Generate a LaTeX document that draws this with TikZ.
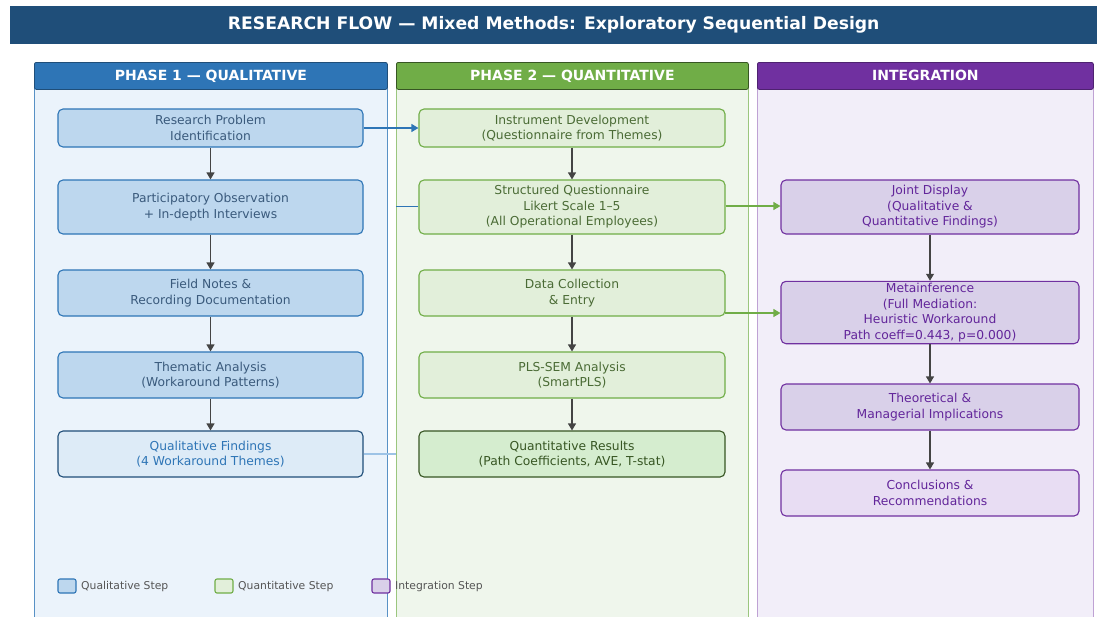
\documentclass[tikz,border=0pt]{standalone}
\usepackage{fontspec}
\setmainfont{DejaVu Sans}
\usetikzlibrary{arrows.meta}
\definecolor{titlebg}{HTML}{1F4E79}
\definecolor{qhead}{HTML}{2E75B6}
\definecolor{nhead}{HTML}{70AD47}
\definecolor{ihead}{HTML}{7030A0}
\definecolor{qpanel}{HTML}{EBF3FB}
\definecolor{npanel}{HTML}{EFF6EC}
\definecolor{ipanel}{HTML}{F2EEF9}
\definecolor{qfill}{HTML}{BDD7EE}
\definecolor{nfill}{HTML}{E2EFDA}
\definecolor{ifill}{HTML}{D9D0E9}
\definecolor{qtext}{HTML}{3A5A7C}
\definecolor{ntext}{HTML}{4A6B35}
\definecolor{itext}{HTML}{62259A}
\definecolor{qlast}{HTML}{DDEBF7}
\definecolor{nlast}{HTML}{D5EDCF}
\definecolor{ilast}{HTML}{E8DDF3}
\definecolor{qdark}{HTML}{1F4E79}
\definecolor{ndark}{HTML}{375623}
\definecolor{flowc}{HTML}{444444}
\definecolor{legc}{HTML}{555555}
\definecolor{qlight}{HTML}{9DC3E6}
\tikzset{
  x=1pt,y=-1pt,
  stepbase/.style={rectangle,rounded corners=5pt,line width=1.1pt,align=center,
    font=\fontsize{12.3}{15.5}\selectfont,inner sep=2pt},
  qbox/.style={stepbase,fill=qfill,draw=qhead,text=qtext,minimum width=305pt},
  nbox/.style={stepbase,fill=nfill,draw=nhead,text=ntext,minimum width=306pt},
  ibox/.style={stepbase,fill=ifill,draw=ihead,text=itext,minimum width=298pt},
  headbox/.style={rectangle,rounded corners=2pt,line width=0.8pt,text=white,
    font=\bfseries\fontsize{14}{16}\selectfont,anchor=north west,inner sep=0pt},
  flow/.style={draw=flowc,line width=1.1pt,-{Triangle[length=7pt,width=8pt]}},
  cross/.style={line width=1.2pt,-{Triangle[length=7pt,width=8pt]}},
  legbox/.style={rectangle,rounded corners=2pt,line width=1.1pt,minimum width=18pt,minimum height=14pt,inner sep=0pt},
  legtext/.style={text=legc,font=\fontsize{10.8}{12}\selectfont,anchor=west,inner sep=0pt},
}
\begin{document}
\begin{tikzpicture}
\useasboundingbox (0,0) rectangle (1097,616);
\fill[white] (0,0) rectangle (1097,616);
% title
\node[fill=titlebg,anchor=north west,minimum width=1087pt,minimum height=38pt,inner sep=0pt,
  text=white,font=\bfseries\fontsize{17.2}{19}\selectfont] (title) at (10,6)
  {RESEARCH FLOW — Mixed Methods: Exploratory Sequential Design};
% panels
\filldraw[fill=qpanel,draw=qhead!80,line width=0.8pt] (34,70) rectangle (387,620);
\filldraw[fill=npanel,draw=nhead!70,line width=0.8pt] (396,70) rectangle (748,620);
\filldraw[fill=ipanel,draw=ihead!45,line width=0.8pt] (757,70) rectangle (1093,620);
\node[headbox,fill=qhead,draw=qdark,minimum width=353pt,minimum height=27pt] (h1) at (34,62) {PHASE 1 — QUALITATIVE};
\node[headbox,fill=nhead,draw=ndark,minimum width=352pt,minimum height=27pt] (h2) at (396,62) {PHASE 2 — QUANTITATIVE};
\node[headbox,fill=ihead,draw=ihead!70!black,minimum width=336pt,minimum height=27pt] (h3) at (757,62) {INTEGRATION};
% phase 1
\node[qbox,minimum height=38pt] (q1) at (210.5,128) {Research Problem\\Identification};
\node[qbox,minimum height=54pt] (q2) at (210.5,207) {Participatory Observation\\+ In-depth Interviews};
\node[qbox,minimum height=46pt] (q3) at (210.5,293) {Field Notes \&\\Recording Documentation};
\node[qbox,minimum height=46pt] (q4) at (210.5,375) {Thematic Analysis\\(Workaround Patterns)};
\node[qbox,minimum height=46pt,fill=qlast,draw=qdark,text=qhead] (q5) at (210.5,454) {Qualitative Findings\\(4 Workaround Themes)};
% phase 2
\node[nbox,minimum height=38pt] (n1) at (572,128) {Instrument Development\\(Questionnaire from Themes)};
\node[nbox,minimum height=54pt] (n2) at (572,207) {Structured Questionnaire\\Likert Scale 1–5\\(All Operational Employees)};
\node[nbox,minimum height=46pt] (n3) at (572,293) {Data Collection\\\& Entry};
\node[nbox,minimum height=46pt] (n4) at (572,375) {PLS-SEM Analysis\\(SmartPLS)};
\node[nbox,minimum height=46pt,fill=nlast,draw=ndark,text=ndark] (n5) at (572,454) {Quantitative Results\\(Path Coefficients, AVE, T-stat)};
% integration
\node[ibox,minimum height=54pt] (i1) at (930,207) {Joint Display\\(Qualitative \&\\Quantitative Findings)};
\node[ibox,minimum height=61pt] (i2) at (930,312.5) {Metainference\\(Full Mediation:\\Heuristic Workaround\\Path coeff=0.443, p=0.000)};
\node[ibox,minimum height=46pt] (i3) at (930,407) {Theoretical \&\\Managerial Implications};
\node[ibox,minimum height=46pt,fill=ilast] (i4) at (930,493) {Conclusions \&\\Recommendations};
% vertical flows
\draw[flow] (q1) -- (q2);
\draw[flow] (q2) -- (q3);
\draw[flow] (q3) -- (q4);
\draw[flow] (q4) -- (q5);
\draw[flow] (n1) -- (n2);
\draw[flow] (n2) -- (n3);
\draw[flow] (n3) -- (n4);
\draw[flow] (n4) -- (n5);
\draw[flow] (i1) -- (i2);
\draw[flow] (i2) -- (i3);
\draw[flow] (i3) -- (i4);
% cross links
\draw[cross,draw=qhead] (q1.east) -- (n1.west);
\coordinate (c1) at (396,206);
\draw[draw=qhead,line width=0.8pt] (c1) -- (n2.west |- c1);
\coordinate (c2) at (396,454);
\draw[draw=qlight,line width=1.6pt] (q5.east) -- (c2);
\draw[cross,draw=nhead] (n2.east |- 0,206) -- (i1.west |- 0,206);
\coordinate (c3) at (725,313);
\draw[cross,draw=nhead] (c3) -- (i2.west |- c3);
% legend
\node[legbox,fill=qfill,draw=qhead] (l1) at (67,586) {};
\node[legtext] (t1) at (81,587) {Qualitative Step};
\node[legbox,fill=nfill,draw=nhead] (l2) at (224,586) {};
\node[legtext] (t2) at (238,587) {Quantitative Step};
\node[legbox,fill=ifill,draw=ihead] (l3) at (381,586) {};
\node[legtext] (t3) at (395,587) {Integration Step};
\end{tikzpicture}
\end{document}
